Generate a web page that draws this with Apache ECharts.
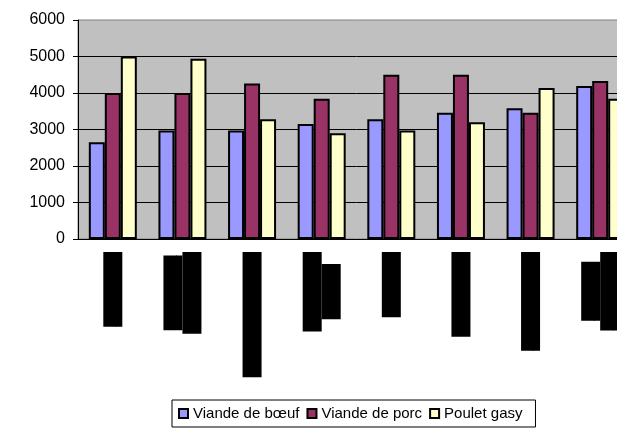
<!DOCTYPE html>
<html>
<head>
<meta charset="utf-8">
<script src="https://cdn.jsdelivr.net/npm/echarts@6/dist/echarts.min.js"></script>
<style>
  html, body { margin: 0; padding: 0; background: #fff; overflow: hidden; }
  /* la zone de tracé déborde à droite de l'image d'origine */
  #chart { width: 640px; height: 430px; }
</style>
</head>
<body>
<div id="chart"></div>
<script>
// libellés masqués sur l'original (blocs noirs)
const categories = ['Antsiranana', 'Moramanga\nFianarantsoa', 'Antananarivo centre', 'Farafangana\nAntalaha',
    'Mananjary', 'Maevatanana', 'Ambohidratrimo', 'Antsirabe\nAmbovombe'];
const seriesNames = ['Viande de bœuf', 'Viande de porc', 'Poulet gasy'];
const boeuf = [2650, 2970, 2970, 3150, 3280, 3460, 3580, 4190];
const porc = [4000, 4000, 4260, 3840, 4500, 4500, 3460, 4330];
const poulet = [5000, 4940, 3280, 2900, 2970, 3200, 4140, 3840];
const yMin = 0, yMax = 6000, yStep = 1000;

(function () {
    const myChart = echarts.init(document.getElementById('chart'));
    const font = 'Liberation Sans, Arial, sans-serif';
    const colors = ['#9999ff', '#993366', '#ffffcc'];
    const values = [boeuf, porc, poulet];

    const option = {
        animation: false,
        textStyle: { fontFamily: font },
        grid: {
            left: 78,
            top: 20,
            width: 557,
            height: 219,
            show: true,
            backgroundColor: '#c0c0c0',
            borderColor: '#808080',
            borderWidth: 1
        },
        legend: {
            left: 172,
            top: 400,
            padding: [6, 13, 6, 6],
            itemWidth: 9,
            itemHeight: 9,
            itemGap: 7,
            borderColor: '#000',
            borderWidth: 1,
            icon: 'rect',
            textStyle: { fontSize: 15, color: '#000', fontFamily: font },
            data: seriesNames
        },
        xAxis: {
            type: 'category',
            data: categories,
            axisLine: { lineStyle: { color: '#000', width: 1 } },
            axisTick: { length: 5, lineStyle: { color: '#000' } },
            axisLabel: {
                interval: 0,
                rotate: 90,
                margin: 13,
                formatter: function (v) {
                    return v.split('\n').map(function (l) { return '{b|' + l + '}'; }).join('\n');
                },
                rich: {
                    b: {
                        color: '#000',
                        backgroundColor: '#000',
                        fontSize: 14,
                        fontFamily: font,
                        height: 19,
                        lineHeight: 19,
                        align: 'center'
                    }
                }
            }
        },
        yAxis: {
            type: 'value',
            min: yMin,
            max: yMax,
            interval: yStep,
            axisLine: { show: true, lineStyle: { color: '#000', width: 1 } },
            axisTick: { show: true, length: 5, lineStyle: { color: '#000' } },
            axisLabel: {
                fontSize: 16,
                color: '#000',
                margin: 13,
                fontFamily: font,
                formatter: function (v) { return String(v); }
            },
            splitLine: { showMaxLine: false, lineStyle: { color: '#000', width: 1 } }
        },
        series: seriesNames.map(function (name, i) {
            return {
                name: name,
                type: 'bar',
                data: values[i],
                barWidth: 16,
                barGap: '0%',
                itemStyle: { color: colors[i], borderColor: '#000', borderWidth: 2 }
            };
        })
    };

    myChart.setOption(option);
    window.addEventListener('resize', function () {
        myChart.resize();
    });
})();
</script>
</body>
</html>
